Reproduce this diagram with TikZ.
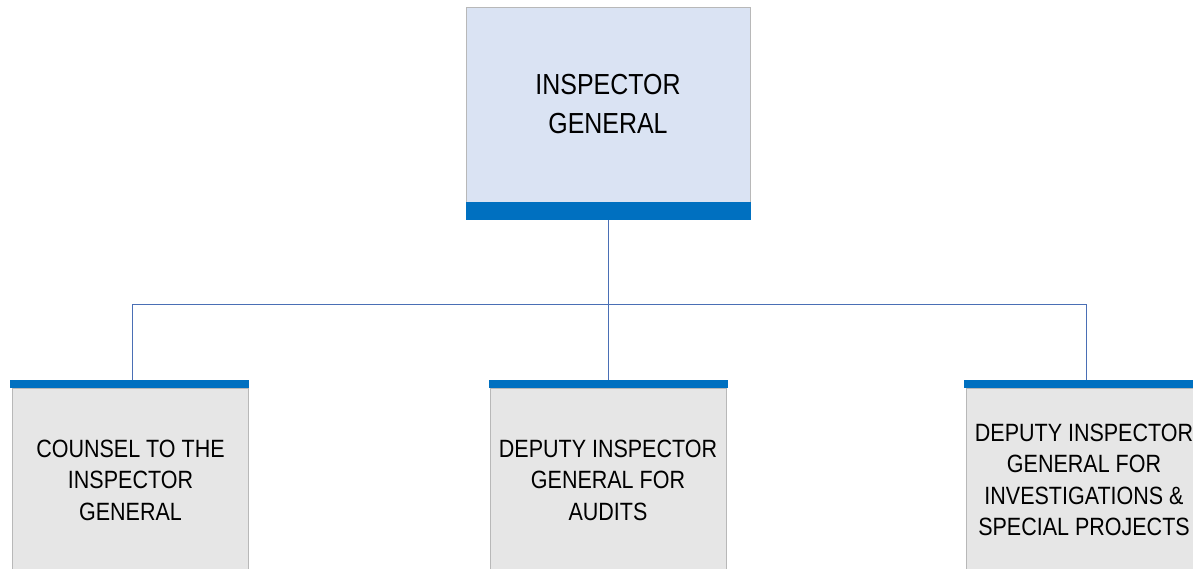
\documentclass[tikz,border=0pt]{standalone}
\usepackage{fontspec}
\setmainfont[FakeStretch=0.86]{Liberation Sans}
\begin{document}
\begin{tikzpicture}[x=1pt,y=-1pt,
  topbox/.style={draw=black!28, fill=topfill, line width=0.8pt, minimum width=284pt, minimum height=195pt, inner sep=0pt, align=center, font=\fontsize{29}{39}\selectfont},
  subbox/.style={draw=black!28, fill=subfill, line width=0.8pt, minimum width=236pt, minimum height=184pt, inner sep=0pt, align=center, font=\fontsize{25}{31.5}\selectfont},
  bigbar/.style={fill=barblue, draw=none, minimum width=285pt, minimum height=18pt, inner sep=0pt},
  smallbar/.style={fill=barblue, draw=none, minimum width=239pt, minimum height=8pt, inner sep=0pt},
  conn/.style={draw=linkblue, line width=0.9pt}]
\definecolor{topfill}{HTML}{DAE3F3}
\definecolor{subfill}{HTML}{E6E6E6}
\definecolor{barblue}{HTML}{0070C0}
\definecolor{linkblue}{HTML}{4A6FB5}
\useasboundingbox (0,0) rectangle (1193,569);
% top
\node[topbox] (ig) at (608,104.5) {INSPECTOR\\GENERAL};
\node[bigbar] (igbar) at (608,211) {};
% subordinates
\node[subbox] (cou) at (130.5,480) {COUNSEL TO THE\\INSPECTOR\\GENERAL};
\node[smallbar] (coubar) at (129.5,384) {};
\node[subbox] (aud) at (608,480) {DEPUTY INSPECTOR\\GENERAL FOR\\AUDITS};
\node[smallbar] (audbar) at (608,384) {};
\node[subbox] (inv) at (1084,480) {DEPUTY INSPECTOR\\GENERAL FOR\\INVESTIGATIONS \&\\SPECIAL PROJECTS};
\node[smallbar] (invbar) at (1083,384) {};
% connectors
\coordinate (j) at (608,304);
\draw[conn] (igbar.south) -- (j);
\draw[conn] (j) -| ([xshift=2.5pt]coubar.north);
\draw[conn] (j) -- (audbar.north);
\draw[conn] (j) -| ([xshift=3pt]invbar.north);
\end{tikzpicture}
\end{document}
